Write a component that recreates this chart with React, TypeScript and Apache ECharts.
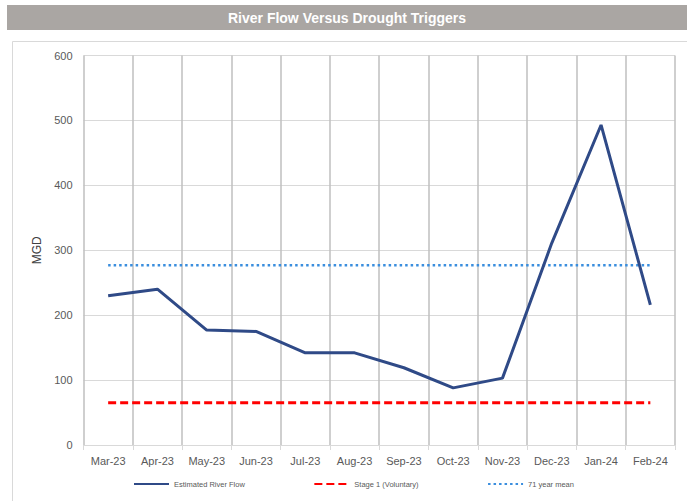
import React, { useEffect, useRef } from "react";
import * as echarts from "echarts";

const months = ["Mar-23", "Apr-23", "May-23", "Jun-23", "Jul-23", "Aug-23", "Sep-23", "Oct-23", "Nov-23", "Dec-23", "Jan-24", "Feb-24"];
const riverFlow = [230, 240, 177, 175, 142, 142, 119, 88, 103, 311, 493, 216];
const stage1 = [65, 65, 65, 65, 65, 65, 65, 65, 65, 65, 65, 65];
const mean71 = [277, 277, 277, 277, 277, 277, 277, 277, 277, 277, 277, 277];

const FONT = "'Liberation Sans', Arial, sans-serif";

export default function App() {
  const ref = useRef<HTMLDivElement>(null);
  useEffect(() => {
    if (!ref.current) return;
    const chart = echarts.init(ref.current, null, { renderer: "svg" });
    chart.setOption({
      animation: false,
      backgroundColor: "#ffffff",
      textStyle: { fontFamily: FONT },
      graphic: [
        { type: "rect", shape: { x: 12.5, y: 41.5, width: 700, height: 500 }, style: { fill: "none", stroke: "#d9d9d9", lineWidth: 1 }, z: 0 },
        { type: "rect", shape: { x: 7, y: 5, width: 690, height: 25 }, style: { fill: "#aaa6a3" }, z: 0 },
        {
          type: "text", x: 347, y: 17.5,
          style: { text: "River Flow Versus Drought Triggers", fill: "#ffffff", font: "bold 14px 'Liberation Sans', Arial, sans-serif", align: "center", verticalAlign: "middle" },
          z: 1,
        },
      ],
      grid: { left: 83.5, right: 12, top: 55.5, bottom: 56, containLabel: false },
      legend: {
        left: 128, top: 475,
        itemWidth: 35, itemHeight: 10, itemGap: 68.5,
        itemStyle: { opacity: 0 },
        textStyle: { fontSize: 7.5, color: "#595959", fontFamily: FONT },
        data: ["Estimated River Flow", "Stage 1 (Voluntary)", "71 year mean"],
      },
      xAxis: {
        type: "category",
        data: months,
        boundaryGap: true,
        axisLine: { show: true, lineStyle: { color: "#d9d9d9", width: 1 } },
        axisTick: { show: true, length: 5, lineStyle: { color: "#d9d9d9" } },
        axisLabel: { color: "#595959", fontSize: 11, margin: 10, fontFamily: FONT },
        splitLine: { show: true, lineStyle: { color: "#bfbfbf", width: 1.5 } },
      },
      yAxis: {
        type: "value",
        min: 0, max: 600, interval: 100,
        name: "MGD",
        nameLocation: "middle",
        nameGap: 34,
        nameRotate: 90,
        nameTextStyle: { color: "#404040", fontSize: 12, fontFamily: FONT },
        axisLine: { show: false },
        axisTick: { show: false },
        axisLabel: { color: "#595959", fontSize: 11, margin: 11, fontFamily: FONT },
        splitLine: { show: true, lineStyle: { color: "#d9d9d9", width: 1 } },
      },
      series: [
        {
          name: "Estimated River Flow", type: "line", data: riverFlow, symbol: "none",
          lineStyle: { color: "#2f4a87", width: 3 }, itemStyle: { color: "#2f4a87" }, z: 5,
        },
        {
          name: "Stage 1 (Voluntary)", type: "line", data: stage1, symbol: "none",
          lineStyle: { color: "#ff0000", width: 3, type: [8, 4] }, itemStyle: { color: "#ff0000" }, z: 4,
        },
        {
          name: "71 year mean", type: "line", data: mean71, symbol: "none",
          lineStyle: { color: "#3a8ede", width: 2.5, type: [2.5, 3] }, itemStyle: { color: "#3a8ede" }, z: 4,
        },
      ],
    });
    return () => chart.dispose();
  }, []);
  return <div ref={ref} style={{ position: "fixed", left: 0, top: 0, width: 687, height: 501 }} />;
}
